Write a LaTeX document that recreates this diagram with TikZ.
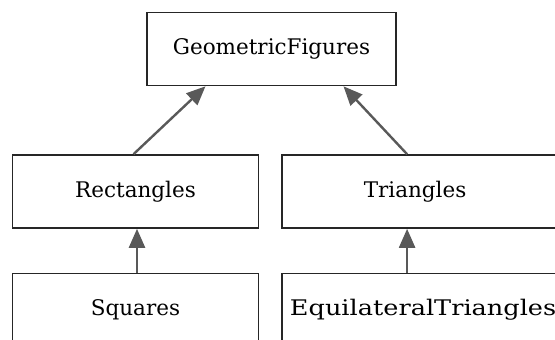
\documentclass[tikz,border=0pt]{standalone}
\usepackage{fontspec}
\setmainfont{DejaVu Serif}
\usepackage{tikz}
\usetikzlibrary{positioning,arrows.meta}

\begin{document}
\begin{tikzpicture}[
  box/.style={draw=black!85, line width=1.6pt, minimum height=73pt, inner sep=2pt, font=\fontsize{21.5}{25}\selectfont},
  arr/.style={-{Triangle[length=19pt, width=16pt]}, line width=2.4pt, draw=black!65}]
\clip (0,0) rectangle (555pt,-340pt);
\node[box, minimum width=249pt] (geo) at (271.5pt,-49pt) {GeometricFigures};
\node[box, minimum width=246pt] (rect) at (135.5pt,-191.5pt) {Rectangles};
\node[box, minimum width=282pt, right=22pt of rect] (tri) {\hspace*{-16pt}Triangles};
\node[box, minimum width=246pt, below=44pt of rect] (sq) {Squares};
\node[box, minimum width=282pt, below=44pt of tri] (eqtri) {\scalebox{1.19}[1]{EquilateralTriangles}};
\draw[arr] ([xshift=-2pt]rect.north) -- ([xshift=-66pt]geo.south);
\draw[arr] ([xshift=-16pt]tri.north) -- ([xshift=72pt]geo.south);
\draw[arr] ([xshift=1.5pt]sq.north) -- ([xshift=1.5pt]rect.south);
\draw[arr] ([xshift=-16pt]eqtri.north) -- ([xshift=-16pt]tri.south);
\end{tikzpicture}
\end{document}
